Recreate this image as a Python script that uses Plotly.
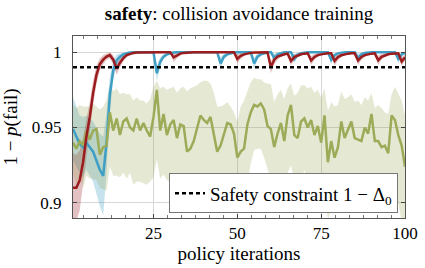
import plotly.graph_objects as go

iters = list(range(1, 101))

red_mean = [
    0.910, 0.910, 0.915, 0.927, 0.944, 0.957, 0.973, 0.985, 0.992, 0.995,
    0.997, 0.998, 0.995, 0.989, 0.993, 0.996, 0.998, 0.999, 0.9995, 0.9997,
    0.9998, 0.9999, 1.0, 1.0, 1.0, 1.0, 1.0, 1.0, 1.0, 1.0,
    0.9965, 0.998, 0.999, 0.9995, 0.9998, 1.0, 1.0, 1.0, 1.0, 1.0,
    1.0, 1.0, 1.0, 1.0, 1.0, 1.0, 1.0, 1.0, 1.0, 0.9955,
    0.9975, 0.9985, 0.9992, 0.9995, 0.9997, 0.9998, 0.9999, 0.9999, 0.9999, 0.9900,
    0.9950, 0.9970, 0.9980, 0.9986, 0.9990, 0.9942, 0.9967, 0.9979, 0.9986, 0.9990,
    0.9992, 0.9944, 0.9968, 0.9980, 0.9986, 0.9990, 0.9992, 0.9993, 0.9942, 0.9967,
    0.9979, 0.9986, 0.9990, 0.9992, 0.9993, 0.9944, 0.9968, 0.9980, 0.9986, 0.9990,
    0.9992, 0.9946, 0.9969, 0.9980, 0.9986, 0.9990, 0.9992, 0.9993, 0.9938, 0.9965,
]
red_std = [
    0.023, 0.022, 0.020, 0.016, 0.012, 0.010, 0.008, 0.006, 0.004, 0.003,
    0.002, 0.002, 0.003, 0.004, 0.003, 0.002, 0.0015, 0.001, 0.001, 0.0008,
    0.0006, 0.0005, 0.0005, 0.0005, 0.0005, 0.0005, 0.0005, 0.0005, 0.0005, 0.0005,
    0.003, 0.002, 0.001, 0.0008, 0.0005, 0.0005, 0.0005, 0.0005, 0.0005, 0.0005,
    0.0005, 0.0005, 0.0005, 0.0005, 0.0005, 0.0005, 0.0005, 0.0005, 0.0005, 0.003,
    0.002, 0.0012, 0.0008, 0.0006, 0.0005, 0.0005, 0.0005, 0.0005, 0.0005, 0.004,
    0.003, 0.002, 0.0012, 0.0008, 0.0006, 0.003, 0.002, 0.0012, 0.0008, 0.0006,
    0.0005, 0.003, 0.002, 0.0012, 0.0008, 0.0006, 0.0005, 0.0005, 0.003, 0.002,
    0.0012, 0.0008, 0.0006, 0.0005, 0.0005, 0.003, 0.002, 0.0012, 0.0008, 0.0006,
    0.0005, 0.003, 0.002, 0.0012, 0.0008, 0.0006, 0.0005, 0.0005, 0.003, 0.002,
]

blue_mean = [
    0.949, 0.944, 0.939, 0.937, 0.940, 0.937, 0.934, 0.928, 0.922, 0.918,
    0.940, 0.972, 0.988, 0.9945, 0.997, 0.9985, 0.9993, 0.9997, 0.9999, 1.0,
    1.0, 1.0, 1.0, 1.0, 1.0, 0.986, 0.9935, 0.997, 0.9985, 0.9993,
    0.9997, 1.0, 1.0, 1.0, 1.0, 1.0, 1.0, 1.0, 1.0, 1.0,
    1.0, 1.0, 1.0, 1.0, 0.9925, 0.997, 0.9985, 0.9993, 0.9997, 1.0,
    1.0, 1.0, 1.0, 1.0, 0.9925, 0.997, 0.9985, 0.9993, 0.9997, 1.0,
    0.9960, 0.9985, 0.9995, 1.0, 1.0, 1.0, 0.9955, 0.9983, 0.9993, 0.9998,
    1.0, 1.0, 1.0, 1.0, 1.0, 1.0, 1.0, 0.9950, 0.9980, 0.9992,
    0.9997, 1.0, 1.0, 1.0, 1.0, 0.9960, 0.9985, 0.9995, 1.0, 1.0,
    1.0, 1.0, 1.0, 1.0, 1.0, 1.0, 1.0, 0.9955, 0.9985, 0.9995,
]
blue_std = [
    0.021, 0.020, 0.019, 0.020, 0.018, 0.019, 0.020, 0.022, 0.024, 0.026,
    0.020, 0.012, 0.006, 0.004, 0.002, 0.0015, 0.001, 0.0008, 0.0005, 0.0005,
    0.0005, 0.0005, 0.0005, 0.0005, 0.0005, 0.005, 0.003, 0.0015, 0.001, 0.0006,
    0.0005, 0.0005, 0.0005, 0.0005, 0.0005, 0.0005, 0.0005, 0.0005, 0.0005, 0.0005,
    0.0005, 0.0005, 0.0005, 0.0005, 0.004, 0.002, 0.001, 0.0006, 0.0005, 0.0005,
    0.0005, 0.0005, 0.0005, 0.0005, 0.004, 0.002, 0.001, 0.0006, 0.0005, 0.0005,
    0.003, 0.0012, 0.0006, 0.0005, 0.0005, 0.0005, 0.003, 0.0012, 0.0006, 0.0005,
    0.0005, 0.0005, 0.0005, 0.0005, 0.0005, 0.0005, 0.0005, 0.003, 0.0012, 0.0006,
    0.0005, 0.0005, 0.0005, 0.0005, 0.0005, 0.003, 0.0012, 0.0006, 0.0005, 0.0005,
    0.0005, 0.0005, 0.0005, 0.0005, 0.0005, 0.0005, 0.0005, 0.003, 0.0012, 0.0006,
]

green_mean = [
    0.940, 0.936, 0.941, 0.938, 0.948, 0.942, 0.948, 0.949, 0.932, 0.937,
    0.938, 0.960, 0.948, 0.956, 0.945, 0.954, 0.956, 0.950, 0.948, 0.956,
    0.948, 0.953, 0.948, 0.944, 0.957, 0.975, 0.948, 0.959, 0.945, 0.952,
    0.955, 0.943, 0.952, 0.951, 0.934, 0.936, 0.941, 0.950, 0.958, 0.955,
    0.953, 0.957, 0.945, 0.934, 0.938, 0.945, 0.953, 0.952, 0.946, 0.930,
    0.934, 0.936, 0.952, 0.960, 0.965, 0.964, 0.966, 0.962, 0.951, 0.949,
    0.937, 0.946, 0.953, 0.941, 0.958, 0.965, 0.945, 0.943, 0.954, 0.956,
    0.950, 0.955, 0.945, 0.951, 0.940, 0.958, 0.927, 0.941, 0.930, 0.937,
    0.954, 0.943, 0.948, 0.954, 0.943, 0.942, 0.941, 0.950, 0.946, 0.959,
    0.941, 0.941, 0.937, 0.938, 0.933, 0.958, 0.955, 0.945, 0.938, 0.924,
]
green_up = [
    0.025, 0.027, 0.024, 0.026, 0.016, 0.022, 0.018, 0.015, 0.030, 0.027,
    0.030, 0.018, 0.026, 0.020, 0.027, 0.019, 0.016, 0.022, 0.020, 0.014,
    0.020, 0.015, 0.018, 0.025, 0.020, 0.006, 0.028, 0.018, 0.030, 0.024,
    0.022, 0.030, 0.024, 0.026, 0.040, 0.040, 0.036, 0.028, 0.022, 0.026,
    0.028, 0.022, 0.028, 0.030, 0.026, 0.020, 0.014, 0.012, 0.014, 0.024,
    0.030, 0.032, 0.022, 0.020, 0.018, 0.018, 0.016, 0.018, 0.028, 0.030,
    0.030, 0.026, 0.022, 0.028, 0.018, 0.014, 0.026, 0.030, 0.024, 0.022,
    0.026, 0.022, 0.028, 0.024, 0.030, 0.018, 0.034, 0.026, 0.034, 0.028,
    0.020, 0.026, 0.022, 0.018, 0.024, 0.026, 0.024, 0.020, 0.022, 0.014,
    0.022, 0.024, 0.026, 0.022, 0.026, 0.014, 0.022, 0.028, 0.030, 0.034,
]
green_down = [
    0.020, 0.024, 0.022, 0.028, 0.030, 0.026, 0.032, 0.034, 0.022, 0.028,
    0.030, 0.036, 0.030, 0.038, 0.028, 0.034, 0.040, 0.030, 0.036, 0.042,
    0.034, 0.040, 0.036, 0.030, 0.040, 0.046, 0.032, 0.040, 0.030, 0.038,
    0.036, 0.028, 0.040, 0.036, 0.026, 0.030, 0.034, 0.040, 0.044, 0.036,
    0.040, 0.044, 0.034, 0.030, 0.036, 0.042, 0.046, 0.044, 0.040, 0.036,
    0.034, 0.036, 0.040, 0.034, 0.030, 0.028, 0.030, 0.032, 0.028, 0.034,
    0.030, 0.036, 0.040, 0.032, 0.038, 0.040, 0.030, 0.036, 0.040, 0.034,
    0.038, 0.036, 0.034, 0.040, 0.032, 0.044, 0.040, 0.042, 0.036, 0.040,
    0.040, 0.036, 0.038, 0.042, 0.036, 0.034, 0.040, 0.036, 0.040, 0.042,
    0.036, 0.034, 0.030, 0.032, 0.034, 0.042, 0.044, 0.046, 0.050, 0.052,
]

constraint = 0.99
x_ticks = [25, 50, 75, 100]
y_ticks = [0.9, 0.95, 1.0]
y_ticklabels = ["0.9", "0.95", "1"]

BLUE = "#3f9ec4"
RED = "#9b1c1f"
GREEN = "#9bab57"
FONT = "Liberation Serif, Times New Roman, Times, serif"

fig = go.Figure()


def band(mean, up, down, color):
    hi = [m + u for m, u in zip(mean, up)]
    lo = [m - d for m, d in zip(mean, down)]
    fig.add_trace(go.Scatter(
        x=iters + iters[::-1], y=hi + lo[::-1], fill="toself",
        fillcolor=color, line=dict(width=0), mode="lines",
        hoverinfo="skip", showlegend=False))


band(blue_mean, blue_std, blue_std, "rgba(63,158,196,0.30)")
band(red_mean, red_std, red_std, "rgba(155,28,31,0.28)")
band(green_mean, green_up, green_down, "rgba(155,171,87,0.26)")

fig.add_trace(go.Scatter(x=iters, y=blue_mean, mode="lines",
                         line=dict(color=BLUE, width=2.5), showlegend=False))
fig.add_trace(go.Scatter(x=iters, y=green_mean, mode="lines",
                         line=dict(color=GREEN, width=2.5), showlegend=False))
fig.add_trace(go.Scatter(x=iters, y=red_mean, mode="lines",
                         line=dict(color=RED, width=2.5), showlegend=False))
fig.add_trace(go.Scatter(x=[iters[0], iters[-1]], y=[constraint, constraint],
                         mode="lines", line=dict(color="black", width=2.4, dash="4px,3px"),
                         name="Safety constraint 1 \u2212 \u0394<sub>0</sub>"))

fig.update_layout(
    width=425, height=268,
    margin=dict(l=73, r=20, t=36, b=50),
    paper_bgcolor="white", plot_bgcolor="white",
    font=dict(family=FONT, size=16, color="black"),
    title=dict(text="<b>safety</b>: collision avoidance training",
               x=0.5625, xanchor="center", y=0.952, yanchor="middle",
               font=dict(family=FONT, size=19, color="black")),
    showlegend=True,
    legend=dict(x=0.979, xanchor="right", y=0.025, yanchor="bottom",
                bgcolor="white", bordercolor="#777777", borderwidth=1,
                font=dict(family=FONT, size=19), itemwidth=30,
                tracegroupgap=0),
)
fig.update_xaxes(
    range=[1, 100], tickvals=x_ticks, ticks="inside", ticklen=4,
    showline=True, linecolor="#555555", linewidth=1, mirror="allticks",
    showgrid=True, gridcolor="#d6d6d6", gridwidth=1, zeroline=False,
    tickfont=dict(family=FONT, size=17), automargin=False,
    minor=dict(tickmode="linear", tick0=0, dtick=25 / 6, ticks="inside",
               ticklen=3, tickcolor="#777777", showgrid=False),
    title=dict(text="policy iterations", font=dict(family=FONT, size=19), standoff=0),
)
fig.update_yaxes(
    range=[0.89, 1.0107], tickvals=y_ticks, ticktext=y_ticklabels,
    ticks="inside", ticklen=4, ticklabelstandoff=7, automargin=False,
    showline=True, linecolor="#555555", linewidth=1, mirror="allticks",
    showgrid=True, gridcolor="#d6d6d6", gridwidth=1, zeroline=False,
    tickfont=dict(family=FONT, size=17),
    title=dict(text="1 \u2212 <i>p</i>(fail)", font=dict(family=FONT, size=19), standoff=10),
)

fig.write_html("out.html", config={"displayModeBar": False},
               post_script="document.body.style.margin='0';")
